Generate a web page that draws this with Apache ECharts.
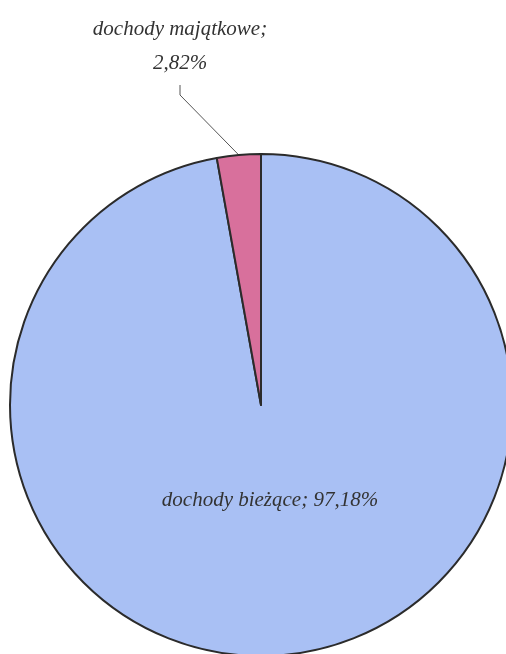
<!DOCTYPE html>
<html>
<head>
<meta charset="utf-8">
<script src="https://cdn.jsdelivr.net/npm/echarts@6/dist/echarts.min.js"></script>
<style>
  html, body { margin: 0; padding: 0; background: #fff; }
  #chart { width: 506px; height: 654px; }
</style>
</head>
<body>
<div id="chart"></div>
<script>
const categories = ['dochody bieżące', 'dochody majątkowe']
const values = [97.18, 2.82]
const colors = ['#a9c0f4', '#d8709c']

const chart = echarts.init(document.getElementById('chart'), null, { renderer: 'canvas' })

const fmt = (v) => v.toFixed(2).replace('.', ',') + '%'

const option = {
  animation: false,
  series: [{
    type: 'pie',
    center: [261, 405],
    radius: 251,
    startAngle: 90,
    clockwise: true,
    itemStyle: {
      borderColor: '#2b2b2b',
      borderWidth: 2,
    },
    label: {
      fontFamily: 'Liberation Serif',
      fontStyle: 'italic',
      fontSize: 21,
      color: '#333',
      lineHeight: 34,
    },
    labelLine: {
      lineStyle: { color: '#555', width: 1 },
    },
    labelLayout: (params) => {
      if (params.dataIndex === 0) {
        return { x: 270, y: 500, align: 'center', verticalAlign: 'middle' }
      }
      return { x: 180, y: 46, align: 'center', verticalAlign: 'middle' }
    },
    data: categories.map((name, i) => ({
      name,
      value: values[i],
      itemStyle: { color: colors[i] },
      label: i === 0
        ? { position: 'inside', formatter: name + '; ' + fmt(values[i]) }
        : { position: 'outside', formatter: name + ';\n' + fmt(values[i]), padding: [0, 0, 10, 0] },
      labelLine: { show: i === 1, length: 20, length2: 10 },
    })),
  }],
}
chart.setOption(option)
</script>
</body>
</html>
